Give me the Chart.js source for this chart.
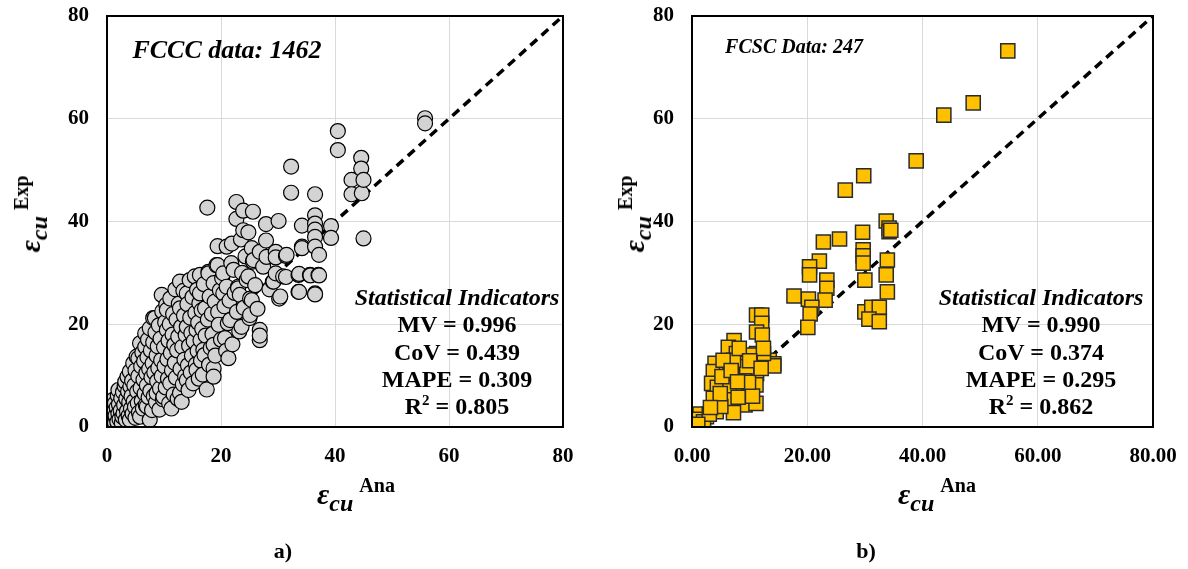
<!DOCTYPE html>
<html lang="en">
<head>
<meta charset="UTF-8">
<title>Ultimate strain: experimental vs analytical</title>
<script src="https://cdn.jsdelivr.net/npm/chart.js"></script>
<style>
    body {
        margin: 0;
        background: #ffffff;
        font-family: "Liberation Serif", "Times New Roman", serif;
    }
    #wrap {
        position: relative;
        width: 1188px;
        height: 569px;
        overflow: hidden;
    }
    canvas {
        position: absolute;
        top: 0;
    }
    .t {
        position: absolute;
        font-weight: bold;
        color: #000;
        white-space: nowrap;
        line-height: 1;
        transform: translate(-50%, -50%);
    }
    .it { font-style: italic; }
    .eps { font-style: italic; font-size: 30px; }
    .cu { font-style: italic; font-size: 24px; position: relative; top: 7px; }
    .sup { font-size: 20px; position: relative; top: -12px; margin-left: 6px; }
    .rot { transform: translate(-50%, -50%) rotate(-90deg); }
    .stats { font-size: 24px; text-align: center; line-height: 27.3px; transform: translate(-50%, 0); }
    .stats sup { font-size: 15px; line-height: 0; }
</style>
</head>
<body>
<div id="wrap">
    <canvas id="fcccChart" width="594" height="569" style="left:0"></canvas>
    <canvas id="fcscChart" width="594" height="569" style="left:594px"></canvas>

    <div class="t it" style="left:227px; top:50px; font-size:26px;">FCCC data: 1462</div>
    <div class="t it" style="left:794px; top:46px; font-size:20px;">FCSC Data: 247</div>

    <div class="stats t" style="left:457px; top:284px;">
        <div class="it">Statistical Indicators</div>
        <div>MV = 0.996</div>
        <div>CoV = 0.439</div>
        <div>MAPE = 0.309</div>
        <div>R<sup>2</sup> = 0.805</div>
    </div>
    <div class="stats t" style="left:1041px; top:284px;">
        <div class="it">Statistical Indicators</div>
        <div>MV = 0.990</div>
        <div>CoV = 0.374</div>
        <div>MAPE = 0.295</div>
        <div>R<sup>2</sup> = 0.862</div>
    </div>

    <div class="t rot" style="left:30px; top:214px;"><span class="eps">ε</span><span class="cu">cu</span><span class="sup">Exp</span></div>
    <div class="t rot" style="left:634px; top:214px;"><span class="eps">ε</span><span class="cu">cu</span><span class="sup">Exp</span></div>

    <div class="t" style="left:356px; top:494px;"><span class="eps">ε</span><span class="cu">cu</span><span class="sup">Ana</span></div>
    <div class="t" style="left:937px; top:494px;"><span class="eps">ε</span><span class="cu">cu</span><span class="sup">Ana</span></div>

    <div class="t" style="left:283px; top:551px; font-size:22px;">a)</div>
    <div class="t" style="left:866px; top:551px; font-size:22px;">b)</div>
</div>

<script>
// axis ticks, shared by both panels
const axisTicks = [0, 20, 40, 60, 80];
const diagonal = [0, 80];

// FCCC: [analytical, experimental]
const fcccPoints = [
    [0.3,0.5],[0.5,1.2],[0.8,0.4],[0.8,2.7],[1.0,1.6],[1.1,5.3],[1.2,3.0],[1.4,0.8],[1.4,4.6],[1.5,2.2],
    [1.7,3.8],[1.8,1.0],[1.9,6.1],[2.0,2.6],[2.0,7.2],[2.1,4.4],[2.2,1.5],[2.4,3.2],[2.5,5.6],[2.6,0.8],
    [2.7,2.0],[2.8,6.8],[2.9,2.7],[3.0,4.3],[3.1,8.0],[3.2,8.8],[3.3,1.4],[3.4,5.5],[3.5,3.1],[3.6,9.8],
    [3.7,6.9],[3.8,2.2],[3.9,4.8],[4.0,10.8],[4.0,1.4],[4.1,7.9],[4.2,3.6],[4.3,6.0],[4.4,9.0],[4.5,2.6],
    [4.6,12.4],[4.7,5.0],[4.8,8.1],[4.9,3.9],[5.0,11.0],[5.0,1.8],[5.2,13.7],[5.3,6.9],[5.4,4.6],[5.5,9.9],
    [5.5,13.4],[5.6,2.8],[5.8,16.3],[5.8,2.0],[5.9,7.6],[6.0,11.8],[6.1,5.1],[6.2,14.5],[6.3,3.6],[6.4,9.2],
    [6.5,12.8],[6.6,6.5],[6.7,18.2],[6.7,15.6],[6.8,4.3],[6.9,10.5],[7.0,4.0],[7.0,8.1],[7.1,13.6],[7.2,17.0],
    [7.3,5.8],[7.4,11.3],[7.5,19.2],[7.5,1.4],[7.6,7.0],[7.7,14.9],[7.8,9.7],[7.9,3.3],[8.0,12.4],[8.1,21.2],
    [8.1,16.5],[8.2,6.0],[8.3,10.6],[8.4,21.2],[8.5,18.4],[8.6,4.8],[8.7,6.6],[8.7,13.9],[8.8,8.9],[8.9,15.7],
    [9.0,11.5],[9.1,19.8],[9.2,3.4],[9.3,7.5],[9.4,17.2],[9.5,13.0],[9.6,25.7],[9.6,9.9],[9.7,22.5],[9.8,5.4],
    [9.9,5.9],[10.0,15.5],[10.1,11.8],[10.2,20.4],[10.3,7.7],[10.4,23.8],[10.5,18.9],[10.5,22.8],[10.6,13.2],[10.7,9.4],
    [10.8,16.8],[10.9,4.6],[11.0,20.0],[11.1,8.5],[11.1,25.0],[11.2,14.4],[11.3,3.6],[11.4,11.0],[11.5,18.0],[11.6,22.0],
    [11.7,6.3],[11.8,16.0],[11.9,12.5],[12.0,26.8],[12.1,9.6],[12.2,20.9],[12.3,14.9],[12.4,5.5],[12.5,17.6],[12.6,24.0],
    [12.8,28.3],[12.8,6.6],[12.8,23.1],[12.9,11.3],[13.0,19.5],[13.1,4.9],[13.2,15.6],[13.3,8.3],[13.4,26.5],[13.5,21.7],
    [13.6,13.1],[13.7,9.9],[13.8,17.9],[14.0,26.0],[14.0,19.5],[14.0,9.1],[14.1,23.9],[14.2,12.0],[14.3,7.2],[14.4,15.8],
    [14.5,28.6],[14.6,21.3],[14.7,10.6],[14.8,18.3],[14.9,13.9],[15.0,25.3],[15.1,8.5],[15.2,16.7],[15.4,29.3],[15.5,22.2],
    [15.6,12.2],[15.7,18.9],[15.7,11.1],[15.8,26.7],[15.9,14.8],[16.0,20.3],[16.1,9.4],[16.2,24.1],[16.3,26.0],[16.3,29.6],
    [16.4,16.9],[16.5,12.9],[16.6,22.7],[16.7,19.1],[16.8,10.2],[16.9,15.0],[17.0,27.8],[17.1,14.0],[17.2,23.1],[17.3,17.8],
    [17.5,7.3],[17.6,42.7],[17.7,20.9],[17.8,30.2],[17.8,29.9],[17.9,12.1],[18.0,25.4],[18.2,15.4],[18.4,22.0],[18.5,18.1],
    [18.7,28.0],[18.7,16.0],[18.7,11.4],[18.7,9.8],[18.9,24.4],[19.0,13.9],[19.2,31.5],[19.4,35.2],[19.4,31.5],[19.5,22.4],
    [19.6,19.9],[19.8,26.6],[20.0,17.0],[20.2,29.0],[20.4,29.9],[20.4,26.0],[20.6,23.5],[20.7,17.3],[20.9,14.8],[21.0,35.1],
    [21.0,27.3],[21.2,20.2],[21.3,13.4],[21.5,24.6],[21.6,20.8],[21.8,31.9],[21.9,35.7],[22.0,16.1],[22.2,30.6],[22.4,26.1],
    [22.7,43.8],[22.7,40.5],[22.8,22.4],[23.0,27.3],[23.0,27.0],[23.2,18.6],[23.3,25.7],[23.5,36.5],[23.6,19.5],[23.7,30.0],
    [23.9,42.1],[23.9,38.3],[24.0,23.2],[24.3,33.2],[24.5,28.6],[24.8,37.9],[24.8,29.3],[25.0,21.2],[25.1,25.0],[25.1,21.8],
    [25.4,34.8],[25.4,24.7],[25.6,41.9],[25.6,32.2],[25.7,32.5],[26.0,27.6],[26.4,23.0],[26.8,34.1],[26.8,18.9],[26.8,16.9],
    [26.8,17.8],[27.4,31.2],[27.9,39.5],[27.9,36.3],[28.0,33.1],[28.5,26.8],[29.1,28.3],[29.2,28.3],[29.6,34.1],[29.6,33.0],
    [29.6,29.9],[30.1,40.1],[30.2,25.0],[30.4,25.4],[30.9,29.3],[31.4,33.3],[31.4,29.2],[31.5,33.5],[32.3,50.7],[32.3,45.6],
    [33.6,26.3],[33.6,29.6],[33.7,29.8],[33.7,26.3],[34.2,39.2],[34.2,35.1],[34.2,34.8],[35.6,29.6],[35.7,29.5],[36.5,45.3],
    [36.5,41.2],[36.5,39.6],[36.5,38.4],[36.5,37.0],[36.5,35.1],[36.5,26.0],[36.5,25.8],[37.1,29.6],[37.2,33.5],[37.2,29.5],
    [39.3,39.1],[39.3,36.8],[40.5,57.6],[40.5,53.9],[42.9,48.1],[42.9,45.3],[44.6,52.4],[44.6,50.3],[44.7,45.5],[45.0,48.1],
    [45.0,36.7],[55.8,60.1],[55.8,59.1]
];

// FCSC: [analytical, experimental]
const fcscPoints = [
    [54.8,73.2],[48.8,63.1],[43.7,60.7],[38.9,51.8],[29.8,48.9],[26.6,46.1],
    [33.7,40.1],[34.2,38.7],[34.2,38.0],[22.8,36.0],[25.6,36.6],[29.6,37.9],[34.5,38.3],[29.7,34.5],[29.7,33.3],
    [29.7,31.9],[30.0,28.6],[33.9,32.5],[33.7,29.6],[33.9,26.3],[22.1,32.3],[20.4,31.2],[20.4,29.6],[23.4,28.6],
    [23.4,27.0],[23.1,24.7],[20.2,24.9],[17.7,25.5],[20.8,23.3],[20.5,22.0],[20.1,19.4],[30.0,22.4],[31.2,23.3],
    [32.5,23.3],[30.7,21.0],[32.5,20.5],[11.2,21.8],[12.1,21.8],[12.1,20.2],[11.2,18.5],[12.2,17.9],
    [7.3,16.8],[6.3,15.5],[7.7,14.3],[8.4,12.4],[11.2,14.3],[13.4,13.0],[14.2,12.3],[14.2,11.9],[11.2,10.4],
    [4.0,12.4],[3.7,10.8],[6.0,12.1],[6.6,10.1],[8.9,10.3],[3.4,8.5],[4.4,7.7],[6.6,7.7],[8.9,7.5],[11.1,8.2],
    [3.7,5.6],[6.1,5.3],[9.2,4.3],[11.1,4.6],[7.2,2.8],[4.2,3.0],[2.5,2.0],[1.4,2.5],[0.8,1.5],[12.4,14.3],
    [10.1,14.0],[9.5,11.7],[5.2,9.8],[7.2,13.0],[8.2,15.3],[5.4,13.0],[12.4,15.3],[10.0,12.9],[9.0,9.0],[10.5,6.0],
    [5.0,4.0],[2.0,1.0],[3.0,2.5],[1.0,0.5],[6.8,11.0],[9.8,8.7],[12.0,11.4],[7.9,8.8],[4.9,6.5],[8.0,5.8],[3.2,3.8]
];

const tickFont = { family: 'Liberation Serif', size: 21, weight: 'bold' };

// outer frame of the plot area
const framePlugin = {
    id: 'frame',
    afterDatasetsDraw(chart) {
        const a = chart.chartArea;
        const ctx = chart.ctx;
        ctx.save();
        ctx.strokeStyle = '#000';
        ctx.lineWidth = 2;
        ctx.strokeRect(a.left, a.top, a.right - a.left, a.bottom - a.top);
        ctx.restore();
    }
};

function buildChart(id, points, marker, yWidth, padRight, fmt) {
    return new Chart(document.getElementById(id), {
        type: 'scatter',
        data: {
            datasets: [
                {
                    data: points.map(p => ({ x: p[0], y: p[1] })),
                    order: 0,
                    ...marker
                },
                {
                    type: 'line',
                    data: diagonal.map(v => ({ x: v, y: v })),
                    order: 1,
                    borderColor: '#000',
                    borderWidth: 3.5,
                    borderDash: [9, 6],
                    pointRadius: 0,
                    fill: false
                }
            ]
        },
        options: {
            responsive: false,
            animation: false,
            events: [],
            layout: { padding: { left: 0, top: 16, right: padRight, bottom: 0 } },
            plugins: { legend: { display: false }, tooltip: { enabled: false } },
            scales: {
                x: {
                    type: 'linear',
                    min: 0,
                    max: 80,
                    afterBuildTicks: s => { s.ticks = axisTicks.map(v => ({ value: v })); },
                    afterFit: s => { s.height = 142; s.paddingLeft = 0; s.paddingRight = 0; },
                    grid: { color: '#d9d9d9', lineWidth: 1, drawTicks: false },
                    border: { display: false },
                    ticks: { padding: 17, color: '#000', font: tickFont, maxRotation: 0, callback: fmt }
                },
                y: {
                    type: 'linear',
                    min: 0,
                    max: 80,
                    afterBuildTicks: s => { s.ticks = axisTicks.map(v => ({ value: v })); },
                    afterFit: s => { s.width = yWidth; s.paddingTop = 0; s.paddingBottom = 0; },
                    grid: { color: '#d9d9d9', lineWidth: 1, drawTicks: false },
                    border: { display: false },
                    ticks: { padding: 18, color: '#000', font: tickFont }
                }
            }
        },
        plugins: [framePlugin]
    });
}

buildChart('fcccChart', fcccPoints, {
    pointStyle: 'circle',
    pointRadius: 7.5,
    pointBackgroundColor: '#d3d3d3',
    pointBorderColor: '#000',
    pointBorderWidth: 1.2
}, 107, 31, v => String(v));

buildChart('fcscChart', fcscPoints, {
    pointStyle: 'rect',
    pointRadius: 10,
    pointBackgroundColor: '#ffc000',
    pointBorderColor: '#2b2b2b',
    pointBorderWidth: 1.5
}, 98, 35, v => Number(v).toFixed(2));
</script>
</body>
</html>
